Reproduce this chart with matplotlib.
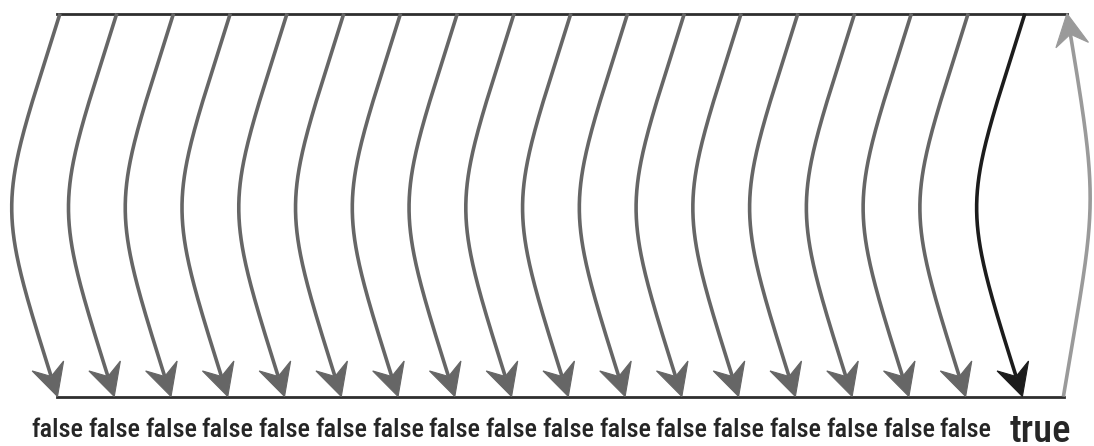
import numpy as np
import matplotlib
matplotlib.use('Agg')
import matplotlib.pyplot as plt
from matplotlib.patches import Polygon

# ─── Diagram content ───
labels = ["false"] * 17 + ["true"]
arrow_kind = ["false"] * 17 + ["true"]   # drives colour / label size

COLORS = {"false": "#666666", "true": "#1c1c1c", "return": "#9a9a9a", "rail": "#2e2e2e"}
LABEL_SIZE = {"false": 19, "true": 28}
FONT = ['Roboto Condensed', 'Archivo Narrow', 'Liberation Sans', 'DejaVu Sans']

# ─── Layout (pixel space, y grows downwards) ───
W, H = 1094, 446
X0, DX = 60.0, 56.76          # top x of first arrow, spacing between arrows
Y_TOP, Y_BOT = 13.5, 396.5
TIP_SHIFT = -2.5              # bottom tip sits slightly left of the top start
PULL, SLANT = 199.0, 0.315    # bezier handle length / slant of the bow
HEAD_LEN, HEAD_W, NOTCH = 32.0, 16.5, 11.0
LABEL_Y = 437.0


def bezier(p0, p1, p2, p3, n=200):
    t = np.linspace(0, 1, n)[:, None]
    return ((1 - t) ** 3) * p0 + 3 * ((1 - t) ** 2) * t * p1 + 3 * (1 - t) * t ** 2 * p2 + t ** 3 * p3


def draw_arrow(ax, p0, p3, bow, color, lw=2.6):
    p0, p3 = np.array(p0), np.array(p3)
    sy = np.sign(p3[1] - p0[1])
    p1 = p0 + np.array([bow * PULL, sy * PULL])
    p2 = p3 + np.array([bow * PULL, -sy * PULL])
    pts = bezier(p0, p1, p2, p3)
    d = p3 - p2
    d = d / np.hypot(*d)
    nrm = np.array([-d[1], d[0]])
    # trim the shaft so it ends inside the head
    seg = np.hypot(*np.diff(pts, axis=0).T)
    back = np.cumsum(seg[::-1])[::-1]
    keep = np.r_[back > (HEAD_LEN - NOTCH - 2), False]
    ax.plot(pts[keep, 0], pts[keep, 1], color=color, lw=lw, solid_capstyle='butt', zorder=2)
    tip = p3
    head = [tip,
            tip - HEAD_LEN * d + HEAD_W * nrm,
            tip - (HEAD_LEN - NOTCH) * d,
            tip - HEAD_LEN * d - HEAD_W * nrm]
    ax.add_patch(Polygon(head, closed=True, facecolor=color, edgecolor=color, lw=0.8, zorder=3))


fig = plt.figure(figsize=(W / 100, H / 100), dpi=100)
ax = fig.add_axes([0, 0, 1, 1])
ax.set_xlim(0, W)
ax.set_ylim(H, 0)
ax.axis('off')

n = len(labels)
xs_top = X0 + DX * np.arange(n)
xs_bot = xs_top + TIP_SHIFT

# rails
ax.plot([xs_top[0] - 3, xs_top[-1] + 42], [Y_TOP, Y_TOP], color=COLORS["rail"], lw=2.0, zorder=1)
ax.plot([xs_bot[0] - 1, xs_bot[-1] + 42], [Y_BOT, Y_BOT], color=COLORS["rail"], lw=2.0, zorder=1)

# downward arrows + labels
for i, (lab, kind) in enumerate(zip(labels, arrow_kind)):
    draw_arrow(ax, (xs_top[i], Y_TOP), (xs_bot[i], Y_BOT), -SLANT, COLORS[kind])
    lx = xs_bot[i] if kind == "false" else xs_bot[i] + 18
    ax.text(lx, LABEL_Y if kind == "false" else LABEL_Y + 5, lab,
            ha='center', va='baseline', fontsize=LABEL_SIZE[kind],
            family=FONT, fontweight=500, color='#262626')

# return arrow on the right (bottom -> top)
draw_arrow(ax, (xs_bot[-1] + 41, Y_BOT), (xs_top[-1] + 42, Y_TOP), 0.167, COLORS["return"])

fig.savefig('out.png', dpi=100, facecolor='white')
